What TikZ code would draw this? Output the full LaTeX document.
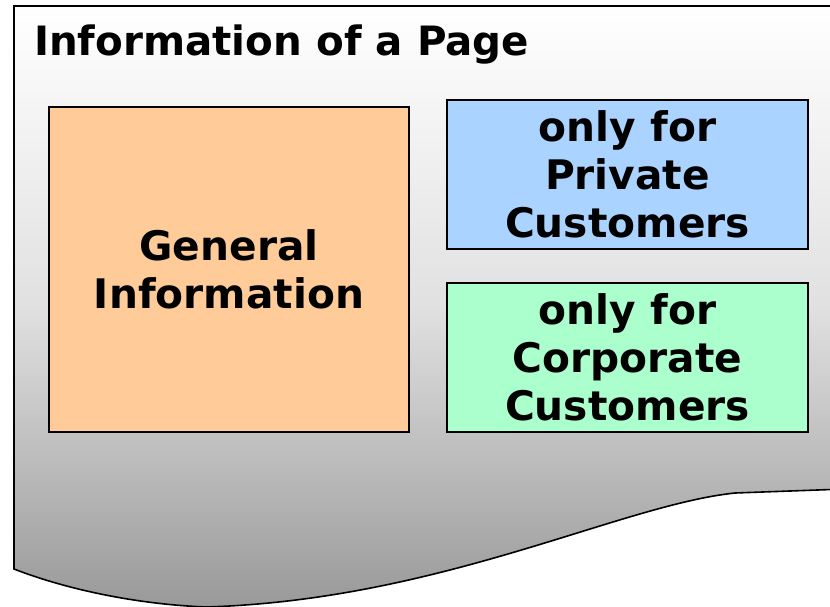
\documentclass[tikz,border=0pt]{standalone}
\usepackage{fontspec}
\setmainfont{DejaVu Sans}
\begin{document}
\begin{tikzpicture}[x=1pt,y=-1pt,
  infobox/.style={draw=black, line width=1.4pt, align=center, inner sep=0pt,
    font=\fontsize{40.7}{48}\selectfont\bfseries},
  doctitle/.style={font=\fontsize{40.4}{48}\selectfont\bfseries, inner sep=0pt}]
\useasboundingbox (0,0) rectangle (830,607);
\clip (0,0) rectangle (830,607);
\path[draw=black, line width=1.6pt, top color=white, bottom color=black!40, middle color=black!12]
  (14,6) -- (845,6) -- (845,489) -- (735,493)
  .. controls (620,505) and (440,600) .. (206,607)
  .. controls (130,604) and (60,587) .. (14,569) -- cycle;
\node[doctitle, anchor=base west] (title) at (34,56) {Information of a Page};
\node[infobox, fill={rgb,255:red,255;green,204;blue,153}, minimum width=360pt, minimum height=325pt]
  (general) at (229,269.5) {General\\Information};
\node[infobox, fill={rgb,255:red,170;green,212;blue,255}, minimum width=361pt, minimum height=149pt]
  (private) at (627.5,174.5) {only for\\Private\\Customers};
\node[infobox, fill={rgb,255:red,170;green,255;blue,204}, minimum width=361pt, minimum height=149pt]
  (corporate) at (627.5,357.5) {only for\\Corporate\\Customers};
\end{tikzpicture}
\end{document}
